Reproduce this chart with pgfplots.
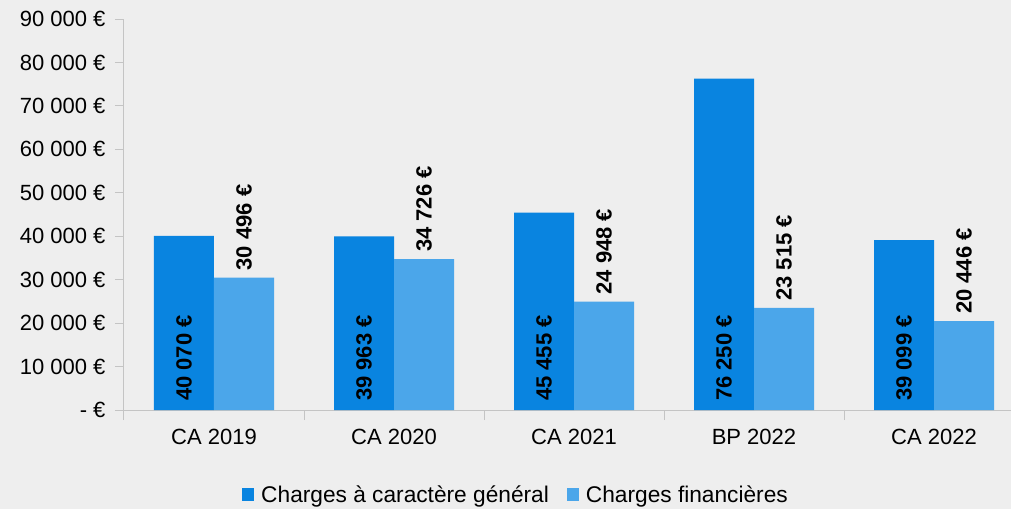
\documentclass[border=0pt]{standalone}
\usepackage{fontspec}
\setmainfont{Liberation Sans}
\usepackage{pgfplots}
\pgfplotsset{compat=1.18}
\definecolor{bg}{HTML}{EEEEEE}
\definecolor{dark}{HTML}{0984E0}
\definecolor{light}{HTML}{4BA6EA}
\definecolor{axc}{HTML}{C4C4C4}
\newcommand{\tf}{\fontsize{22}{26}\selectfont}
\begin{document}
\begin{tikzpicture}
\path[use as bounding box, fill=bg] (-124pt,-99pt) rectangle (887pt,410pt);
\begin{axis}[
  at={(0pt,0pt)}, anchor=south west,
  scale only axis, width=900pt, height=391pt,
  xmin=-0.5, xmax=4.5, ymin=0, ymax=90000,
  scaled y ticks=false,
  ybar, bar width=60pt,
  axis x line*=bottom, axis y line*=left,
  axis line style={axc, line width=1pt},
  tick align=outside,
  ytick={0,10000,20000,30000,40000,50000,60000,70000,80000,90000},
  yticklabels={{- €},{10 000 €},{20 000 €},{30 000 €},{40 000 €},{50 000 €},{60 000 €},{70 000 €},{80 000 €},{90 000 €}},
  xtick={0,1,2,3,4},
  xticklabels={CA 2019,CA 2020,CA 2021,BP 2022,CA 2022},
  minor xtick={-0.5,0.5,1.5,2.5,3.5},
  major x tick style={draw=none},
  minor x tick style={axc, line width=1pt},
  major y tick style={axc, line width=1pt},
  major tick length=9pt, minor tick length=10pt,
  tick label style={font=\tf, text=black},
  yticklabel style={xshift=-6pt},
  xticklabel style={yshift=-7pt},
  legend style={at={(0.4356,-0.217)}, anchor=center, draw=none, fill=none,
    legend columns=2, font=\fontsize{22.7}{26}\selectfont,
    /tikz/every even column/.append style={column sep=16pt}},
  legend image code/.code={\fill[#1] (0pt,-6.5pt) rectangle (12pt,6.5pt); \path (17pt,0pt);},
]
\addplot[fill=dark, draw=none, bar shift=-30pt] coordinates {(0,40070) (1,39963) (2,45455) (3,76250) (4,39099)};
\addlegendentry{Charges à caractère général}
\addplot[fill=light, draw=none, bar shift=30pt, nodes near coords, point meta=explicit symbolic,
  nodes near coords style={rotate=90, anchor=west, font=\bfseries\tf, inner xsep=7pt, text=black}]
  coordinates {(0,30496) [30 496 €] (1,34726) [34 726 €] (2,24948) [24 948 €] (3,23515) [23 515 €] (4,20446) [20 446 €]};
\addlegendentry{Charges financières}
\addplot[draw=none, fill=none, bar shift=-30pt, forget plot, nodes near coords, point meta=explicit symbolic,
  nodes near coords style={rotate=90, anchor=west, font=\bfseries\tf, inner xsep=9pt, text=black}]
  coordinates {(0,0) [40 070 €] (1,0) [39 963 €] (2,0) [45 455 €] (3,0) [76 250 €] (4,0) [39 099 €]};
\end{axis}
\end{tikzpicture}
\end{document}
